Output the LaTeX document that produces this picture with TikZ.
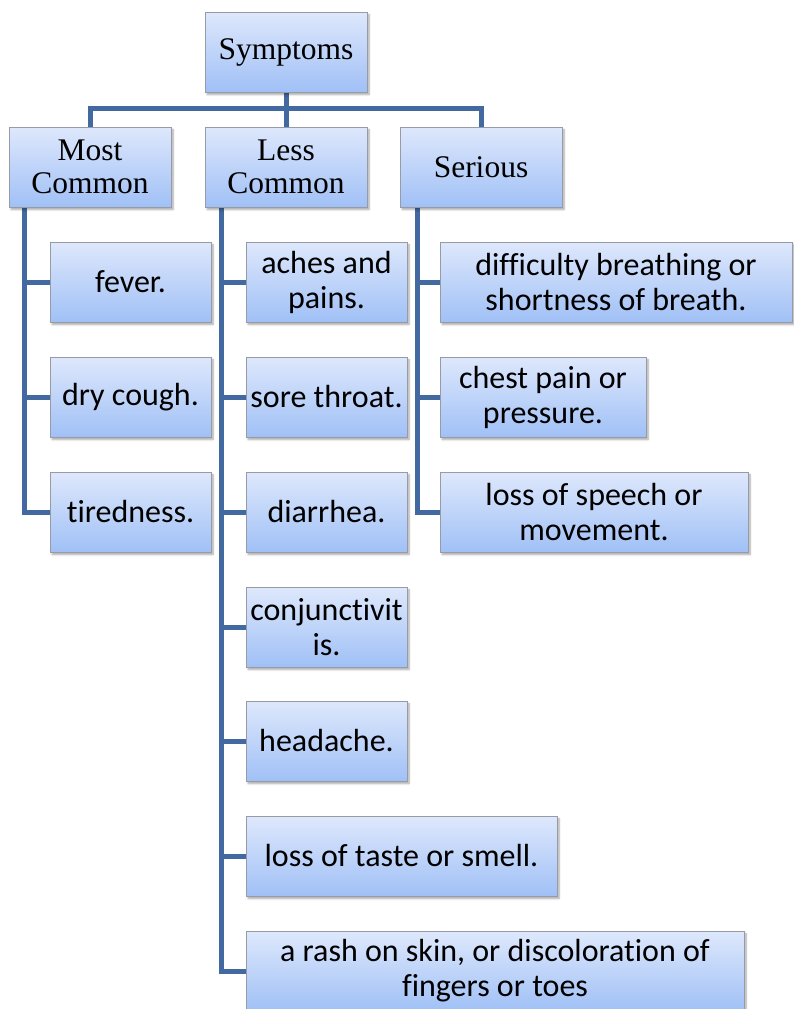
\documentclass[tikz,border=0pt]{standalone}
\usepackage{fontspec}
\setmainfont{Liberation Serif}
\newfontfamily\leaffont[Ligatures=NoCommon]{Carlito}
\usetikzlibrary{shadows.blur, backgrounds}
\definecolor{boxtop}{RGB}{222,232,252}
\definecolor{boxbot}{RGB}{160,192,246}
\definecolor{boxrim}{RGB}{150,155,165}
\definecolor{linkblue}{RGB}{66,106,160}
\begin{document}
\begin{tikzpicture}[
        x=1pt, y=-1pt,
        box/.style={rectangle, draw=boxrim, line width=1pt, top color=boxtop, bottom color=boxbot,
            blur shadow={shadow xshift=2pt, shadow yshift=-2.5pt, shadow blur steps=6, shadow opacity=35},
            align=center, inner sep=2pt},
        headbox/.style={box, minimum width=162pt, minimum height=80pt, font=\fontsize{31.5}{33}\selectfont},
        leafbox/.style={box, minimum height=80pt, font=\leaffont\fontsize{32}{35}\selectfont},
        link/.style={draw=linkblue, line width=5pt}
    ]
        \useasboundingbox (0,0) rectangle (793,1009);

        % Root and the three groups
        \node[headbox] (sym) at (286,52) {Symptoms};
        \node[headbox] (most) at (90,167) {Most\\Common};
        \node[headbox] (less) at (286,167) {Less\\Common};
        \node[headbox] (serious) at (481,167) {Serious};

        % Most common
        \node[leafbox, minimum width=161pt] (fever) at (130.5,282) {fever.};
        \node[leafbox, minimum width=161pt] (cough) at (130.5,397) {dry cough.};
        \node[leafbox, minimum width=161pt] (tired) at (130.5,512) {tiredness.};

        % Less common
        \node[leafbox, minimum width=161pt] (aches) at (326.5,282) {aches and\\pains.};
        \node[leafbox, minimum width=161pt] (throat) at (326.5,397) {sore throat.};
        \node[leafbox, minimum width=161pt] (diarrhea) at (326.5,512) {diarrhea.};
        \node[leafbox, minimum width=161pt] (conj) at (326.5,627) {conjunctivit\\is.};
        \node[leafbox, minimum width=161pt] (headache) at (326.5,741) {headache.};
        \node[leafbox, minimum width=311pt] (taste) at (401.5,856) {loss of taste or smell.};
        \node[leafbox, minimum width=498pt] (rash) at (495,971) {a rash on skin, or discoloration of\\fingers or toes};

        % Serious
        \node[leafbox, minimum width=352pt] (breath) at (616,282) {difficulty breathing or\\shortness of breath.};
        \node[leafbox, minimum width=206pt] (chest) at (543,397) {chest pain or\\pressure.};
        \node[leafbox, minimum width=308pt] (speech) at (594,512) {loss of speech or\\movement.};

        % Trunks under the groups
        \coordinate (mostT) at ([xshift=16pt]most.south west);
        \coordinate (lessT) at ([xshift=17pt]less.south west);
        \coordinate (seriousT) at ([xshift=18pt]serious.south west);
        \coordinate (bar) at (286,108);

        % Connectors, drawn behind the boxes
        \begin{scope}[on background layer]
            \path[link] (most.north) |- (bar) -| (serious.north);
            \path[link] (sym.south) -- (less.north);
            \foreach \leaf in {fever, cough, tired}
                \path[link] (mostT) |- (\leaf.west);
            \foreach \leaf in {aches, throat, diarrhea, conj, headache, taste, rash}
                \path[link] (lessT) |- (\leaf.west);
            \foreach \leaf in {breath, chest, speech}
                \path[link] (seriousT) |- (\leaf.west);
        \end{scope}
    \end{tikzpicture}
\end{document}
